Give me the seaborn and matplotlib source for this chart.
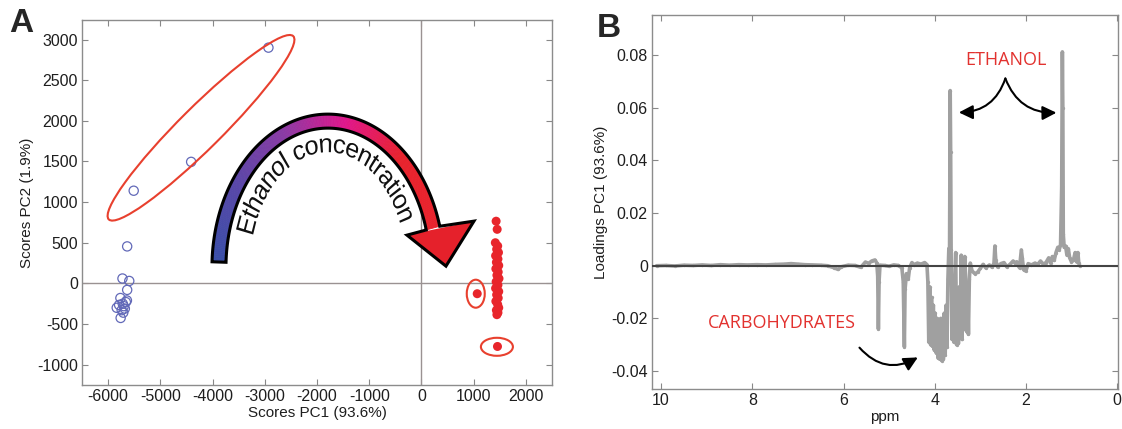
import numpy as np
import seaborn as sns
import matplotlib.pyplot as plt
import matplotlib.transforms as mtrans
from matplotlib.patches import Ellipse, Polygon, PathPatch
from matplotlib.path import Path
from matplotlib.textpath import TextPath
from matplotlib.font_manager import FontProperties
from matplotlib.colors import LinearSegmentedColormap

sns.set_theme(style="ticks")
plt.rcParams['font.family'] = ['Liberation Sans', 'DejaVu Sans']
plt.rcParams['axes.unicode_minus'] = False

DPI = 100

# ---- panel A : PCA scores ----
blue_pc1 = [-2930, -4410, -5510, -5635, -5725, -5595, -5635, -5765, -5640, -5790,
            -5700, -5835, -5740, -5710, -5760, -5720, -5680, -5660]
blue_pc2 = [2900, 1495, 1140, 455, 60, 30, -80, -180, -210, -265,
            -280, -300, -330, -360, -425, -250, -310, -230]

red_pc1 = [1430, 1450, 1415, 1460, 1440, 1475, 1420, 1465, 1435, 1480, 1425, 1470,
           1445, 1485, 1430, 1465, 1420, 1480, 1440, 1470, 1425, 1460, 1480, 1435,
           1465, 1445, 1068, 1456]
red_pc2 = [765, 665, 500, 460, 420, 380, 340, 300, 260, 220, 180, 140,
           100, 60, 20, -20, -60, -100, -140, -180, -220, -260, -300, -330,
           -360, -385, -127, -776]

xticks_a = [-6000, -5000, -4000, -3000, -2000, -1000, 0, 1000, 2000]
yticks_a = [-1000, -500, 0, 500, 1000, 1500, 2000, 2500, 3000]

# ---- panel B : PC1 loadings ----
ppm = [10.10, 9.90, 9.70, 9.50, 9.30, 9.10, 8.90, 8.70, 8.50, 8.30, 8.10, 7.90, 7.70,
       7.50, 7.30, 7.15, 7.00, 6.85, 6.70, 6.50, 6.35, 6.20, 6.12, 6.05, 5.90, 5.75,
       5.62, 5.52, 5.45, 5.38, 5.31, 5.27, 5.25, 5.235, 5.22, 5.20, 5.10, 5.00, 4.90,
       4.80, 4.72, 4.69, 4.665, 4.65, 4.62, 4.58, 4.55, 4.50, 4.45, 4.38, 4.30, 4.22,
       4.17, 4.15, 4.13, 4.11, 4.09, 4.07, 4.05, 4.03, 4.01, 3.99, 3.97, 3.95, 3.93,
       3.91, 3.89, 3.87, 3.85, 3.83, 3.81, 3.79, 3.77, 3.75, 3.73, 3.71, 3.69, 3.675,
       3.66, 3.65, 3.64, 3.62, 3.60, 3.58, 3.56, 3.54, 3.52, 3.50, 3.48, 3.46, 3.44,
       3.42, 3.40, 3.38, 3.36, 3.34, 3.32, 3.30, 3.28, 3.26, 3.24, 3.22, 3.18, 3.12,
       3.06, 3.00, 2.94, 2.88, 2.80, 2.74, 2.70, 2.68, 2.66, 2.62, 2.55, 2.48, 2.42,
       2.35, 2.28, 2.24, 2.20, 2.14, 2.10, 2.08, 2.05, 2.00, 1.95, 1.88, 1.80, 1.74,
       1.68, 1.62, 1.56, 1.50, 1.46, 1.42, 1.38, 1.34, 1.30, 1.27, 1.24, 1.215, 1.20,
       1.19, 1.18, 1.16, 1.13, 1.10, 1.07, 1.04, 1.00, 0.96, 0.92, 0.89, 0.86, 0.84,
       0.82]
loading = [0.0000, 0.0001, -0.0001, 0.0002, 0.0001, 0.0003, 0.0001, 0.0004, 0.0002,
           0.0004, 0.0003, 0.0004, 0.0003, 0.0005, 0.0006, 0.0008, 0.0006, 0.0004,
           0.0003, 0.0002, 0.0000, -0.0008, -0.0014, -0.0004, 0.0002, 0.0001, -0.0006,
           0.0014, 0.0009, 0.0018, 0.0022, 0.0010, -0.0040, -0.0240, -0.0060, 0.0002,
           0.0001, -0.0002, 0.0003, 0.0001, -0.0008, -0.0060, -0.0308, -0.0090, -0.0030,
           -0.0050, -0.0008, 0.0012, 0.0004, 0.0010, 0.0006, 0.0012, 0.0004, -0.0060,
           -0.0290, -0.0080, -0.0300, -0.0120, -0.0305, -0.0150, -0.0320, -0.0180,
           -0.0330, -0.0200, -0.0350, -0.0220, -0.0355, -0.0200, -0.0360, -0.0210,
           -0.0355, -0.0180, -0.0340, -0.0150, -0.0310, -0.0050, 0.0065, 0.0030,
           0.0665, 0.0430, 0.0060, -0.0280, -0.0100, -0.0290, -0.0060, 0.0050, -0.0300,
           -0.0120, -0.0295, -0.0080, -0.0270, 0.0040, -0.0280, -0.0100, -0.0240,
           0.0035, -0.0060, -0.0250, -0.0080, -0.0260, -0.0050, 0.0010, -0.0020,
           -0.0030, -0.0025, -0.0010, 0.0005, -0.0008, 0.0003, -0.0006, 0.0010, 0.0075,
           0.0020, -0.0005, 0.0008, 0.0012, -0.0004, 0.0005, 0.0018, 0.0010, 0.0015,
           -0.0008, 0.0060, 0.0030, -0.0015, -0.0020, 0.0008, 0.0003, 0.0010, 0.0005,
           0.0018, 0.0006, 0.0012, 0.0030, 0.0010, 0.0035, 0.0020, 0.0050, 0.0070,
           0.0060, 0.0080, 0.0300, 0.0812, 0.0600, 0.0120, 0.0070, 0.0075, 0.0040,
           0.0065, 0.0030, 0.0015, 0.0020, 0.0050, 0.0015, 0.0050, 0.0010, 0.0000]

xticks_b = [10, 8, 6, 4, 2, 0]
yticks_b = [-0.04, -0.02, 0, 0.02, 0.04, 0.06, 0.08]
yticklabels_b = ["-0.04", "-0.02", "0", "0.02", "0.04", "0.06", "0.08"]


def px_offset(fig, ax, x, y):
    # pixel-sized shapes anchored at a data point
    return (mtrans.Affine2D().scale(1.0 / DPI) + fig.dpi_scale_trans
            + mtrans.ScaledTranslation(x, y, ax.transData))


def style_axes(ax):
    for sp in ax.spines.values():
        sp.set_color('#8c8c8c')
        sp.set_linewidth(1.0)
        sp.set_visible(True)
    ax.tick_params(direction='in', length=4, width=0.8, color='#888888',
                   labelcolor='#1e1e1e', labelsize=11.5, top=True, right=True, pad=3)


def gradient_arrow(fig, ax, cx, cy):
    tr = px_offset(fig, ax, cx, cy)
    rx, ry, w = 109, 146, 7
    cmap = LinearSegmentedColormap.from_list(
        'eth', ['#3a4fa8', '#5a47a8', '#8c3aa4', '#e0168c', '#e8232d', '#e8232d'])
    t = np.radians(np.linspace(178, 15.5, 220))
    n = len(t) - 1
    for i in range(n):
        ta, tb = t[i], t[i + 1]
        quad = [((rx + w) * np.cos(ta), (ry + w) * np.sin(ta)),
                ((rx + w) * np.cos(tb), (ry + w) * np.sin(tb)),
                ((rx - w) * np.cos(tb), (ry - w) * np.sin(tb)),
                ((rx - w) * np.cos(ta), (ry - w) * np.sin(ta))]
        c = cmap(i / (n - 1))
        ax.add_patch(Polygon(quad, closed=True, fc=c, ec=c, lw=0.6,
                             transform=tr, clip_on=False, zorder=4))
    head = [(146, 46), (118, 1), (79, 32)]
    ax.add_patch(Polygon(head, closed=True, fc='#e5212b', ec='none',
                         transform=tr, clip_on=False, zorder=4))
    outer = np.c_[(rx + w) * np.cos(t), (ry + w) * np.sin(t)]
    inner = np.c_[(rx - w) * np.cos(t), (ry - w) * np.sin(t)][::-1]
    outline = np.vstack([outer, head, inner])
    ax.add_patch(Polygon(outline, closed=True, fill=False, ec='black', lw=2.2,
                         joinstyle='miter', transform=tr, clip_on=False, zorder=5))

    # text bent along the inside of the arc
    fp = FontProperties(family='Liberation Sans')
    tp = TextPath((0, 0), "Ethanol concentration", size=26, prop=fp)
    width = tp.get_extents().x1
    rxb, ryb = 78, 115
    tt = np.linspace(np.pi, 0, 3000)
    mid = np.c_[(rxb + 8) * np.cos(tt), (ryb + 8) * np.sin(tt)]
    s = np.r_[0, np.cumsum(np.hypot(*np.diff(mid, axis=0).T))]
    s_c = np.interp(np.radians(95), tt[::-1], s[::-1])
    s0 = s_c - width / 2
    verts, codes = [], []
    for poly in tp.to_polygons():
        tk = np.interp(s0 + poly[:, 0], s, tt)
        xs = (rxb + poly[:, 1]) * np.cos(tk)
        ys = (ryb + poly[:, 1]) * np.sin(tk)
        verts.extend(zip(xs, ys))
        codes += [Path.MOVETO] + [Path.LINETO] * (len(poly) - 2) + [Path.CLOSEPOLY]
    ax.add_patch(PathPatch(Path(verts, codes), fc='#111111', ec='none',
                           transform=tr, clip_on=False, zorder=5))


fig = plt.figure(figsize=(11.22, 4.29), dpi=DPI)
axA = fig.add_axes([82 / 1122, 44 / 429, 470 / 1122, 365 / 429])
axB = fig.add_axes([652 / 1122, 40 / 429, 466 / 1122, 374 / 429])

# ---------- A ----------
axA.set_xlim(-6500, 2500)
axA.set_ylim(-1250, 3240)
axA.axhline(0, color='#9a9292', lw=1.0, zorder=1)
axA.axvline(0, color='#9a9292', lw=1.0, zorder=1)
sns.scatterplot(x=blue_pc1, y=blue_pc2, ax=axA, s=44, marker='o',
                facecolor='none', edgecolor='#6269b8', linewidth=0.9, zorder=3)
sns.scatterplot(x=red_pc1, y=red_pc2, ax=axA, s=42, marker='o',
                color='#e8252b', edgecolor='none', linewidth=0, zorder=3)

red_line = '#e8402e'
axA.add_patch(Ellipse((0, 0), 260, 42, angle=44.8, fill=False, ec=red_line, lw=1.5,
                      transform=px_offset(fig, axA, -4221, 1914), zorder=3))
axA.add_patch(Ellipse((0, 0), 18, 28, fill=False, ec=red_line, lw=1.5,
                      transform=px_offset(fig, axA, 1040, -127), zorder=3))
axA.add_patch(Ellipse((0, 0), 32, 18, fill=False, ec=red_line, lw=1.5,
                      transform=px_offset(fig, axA, 1445, -780), zorder=3))
gradient_arrow(fig, axA, -1790, 200)

axA.set_xticks(xticks_a)
axA.set_yticks(yticks_a)
axA.set_xticklabels([str(v) for v in xticks_a])
axA.set_yticklabels([str(v) for v in yticks_a])
axA.set_xlabel("Scores PC1 (93.6%)", fontsize=11, color='#1e1e1e', labelpad=1)
axA.set_ylabel("Scores PC2 (1.9%)", fontsize=11, color='#1e1e1e', labelpad=2)
style_axes(axA)

# ---------- B ----------
sns.lineplot(x=ppm, y=loading, ax=axB, sort=False, estimator=None, color='#a0a0a0',
             lw=2.6, marker='o', markersize=2.4, markeredgewidth=0, zorder=2)
axB.axhline(0, color='#444444', lw=1.5, zorder=3)
axB.set_xlim(10.2, -0.02)
axB.set_ylim(-0.0468, 0.0952)
axB.set_xticks(xticks_b)
axB.set_xticklabels([str(v) for v in xticks_b])
axB.set_yticks(yticks_b)
axB.set_yticklabels(yticklabels_b)
axB.set_xlabel("ppm", fontsize=11, color='#1e1e1e', labelpad=1)
axB.set_ylabel("Loadings PC1 (93.6%)", fontsize=11, color='#1e1e1e', labelpad=2)
style_axes(axB)

red_txt = '#e2322f'
axB.text(2.43, 0.078, "ETHANOL", color=red_txt, fontsize=13, ha='center', va='center',
         family=['Open Sans', 'DejaVu Sans'])
axB.text(7.36, -0.0216, "CARBOHYDRATES", color=red_txt, fontsize=13, ha='center',
         va='center', family=['Open Sans', 'DejaVu Sans'])
arrow_kw = dict(arrowstyle='-|>,head_length=0.7,head_width=0.35', color='black',
                lw=1.5, shrinkA=0, shrinkB=0)
axB.annotate("", xy=(3.47, 0.0582), xytext=(2.45, 0.0711),
             arrowprops=dict(connectionstyle='arc3,rad=-0.35', **arrow_kw))
axB.annotate("", xy=(1.33, 0.0581), xytext=(2.45, 0.0711),
             arrowprops=dict(connectionstyle='arc3,rad=0.35', **arrow_kw))
axB.annotate("", xy=(4.37, -0.0348), xytext=(5.65, -0.0311),
             arrowprops=dict(connectionstyle='arc3,rad=0.4', **arrow_kw))

fig.text(9 / 1122, 1 - 32 / 429, "A", fontsize=24, fontweight='heavy', va='baseline')
fig.text(597 / 1122, 1 - 37 / 429, "B", fontsize=24, fontweight='heavy', va='baseline')

fig.savefig("out.png", dpi=DPI)
